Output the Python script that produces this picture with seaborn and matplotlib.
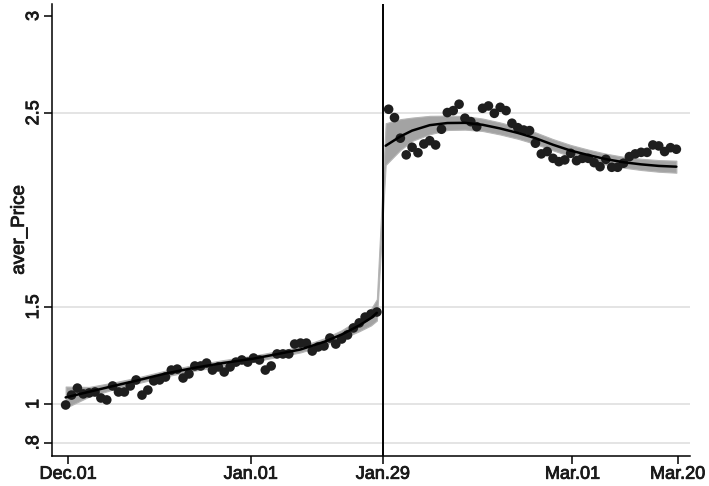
import numpy as np
import pandas as pd
import matplotlib
matplotlib.use("Agg")
import matplotlib.pyplot as plt
import matplotlib.patheffects as pe
import seaborn as sns

# daily average price, day 0 = Dec.01, cutoff at day 54 (Jan.29)
pre_day = list(range(0, 54))
pre_price = [0.995, 1.046, 1.082, 1.052, 1.057, 1.062, 1.031, 1.021, 1.093, 1.062,
             1.062, 1.093, 1.124, 1.046, 1.072, 1.119, 1.124, 1.139, 1.175, 1.180,
             1.134, 1.155, 1.196, 1.196, 1.211, 1.175, 1.191, 1.165, 1.191, 1.216,
             1.227, 1.216, 1.237, 1.227, 1.175, 1.196, 1.258, 1.258, 1.258, 1.309,
             1.314, 1.314, 1.273, 1.294, 1.299, 1.340, 1.309, 1.335, 1.356, 1.392,
             1.418, 1.448, 1.464, 1.474]
post_day = list(range(55, 105))
post_price = [2.519, 2.476, 2.370, 2.284, 2.323, 2.295, 2.340, 2.357, 2.335, 2.416,
              2.502, 2.512, 2.545, 2.473, 2.455, 2.429, 2.524, 2.536, 2.498, 2.529,
              2.512, 2.447, 2.424, 2.412, 2.409, 2.344, 2.289, 2.301, 2.266, 2.249,
              2.258, 2.292, 2.254, 2.266, 2.266, 2.244, 2.223, 2.261, 2.220, 2.220,
              2.241, 2.275, 2.289, 2.297, 2.297, 2.335, 2.330, 2.301, 2.321, 2.313]

# fitted curve and 95% CI
fit_pre_day = [0, 4, 8, 12, 17, 22, 27, 32, 36, 40, 44, 47, 50, 52, 53]
fit_pre = [1.034, 1.063, 1.092, 1.120, 1.157, 1.187, 1.212, 1.234, 1.257, 1.281,
           1.320, 1.358, 1.405, 1.443, 1.470]
ci_pre_lo = [0.980, 1.038, 1.074, 1.105, 1.142, 1.172, 1.197, 1.219, 1.242, 1.266,
             1.302, 1.336, 1.375, 1.405, 1.430]
ci_pre_hi = [1.090, 1.088, 1.110, 1.135, 1.172, 1.202, 1.227, 1.249, 1.272, 1.296,
             1.338, 1.380, 1.437, 1.490, 1.540]

fit_post_day = [54.5, 57, 59, 62, 65, 68, 71, 74, 77, 80, 83, 86, 89, 92, 95, 98, 101, 104]
fit_post = [2.331, 2.379, 2.409, 2.437, 2.448, 2.449, 2.439, 2.420, 2.397, 2.370,
            2.336, 2.306, 2.283, 2.262, 2.246, 2.235, 2.227, 2.223]
ci_post_lo = [2.232, 2.309, 2.356, 2.390, 2.412, 2.414, 2.407, 2.389, 2.367, 2.340,
              2.307, 2.277, 2.255, 2.234, 2.218, 2.206, 2.197, 2.192]
ci_post_hi = [2.447, 2.468, 2.476, 2.485, 2.486, 2.484, 2.471, 2.451, 2.427, 2.400,
              2.365, 2.335, 2.311, 2.290, 2.274, 2.264, 2.257, 2.254]

cutoff = 54
xtick_pos = [0.4, 31.5, 54, 86.3, 104.2]
xtick_lab = ["Dec.01", "Jan.01", "Jan.29", "Mar.01", "Mar.20"]
ytick_pos = [0.8, 1, 1.5, 2.5, 3]
ytick_lab = [".8", "1", "1.5", "2.5", "3"]

sns.set_style("white")
plt.rcParams["font.family"] = ["Liberation Sans", "DejaVu Sans"]

fig = plt.figure(figsize=(7.09, 4.86), dpi=100)
ax = fig.add_axes([0.0733, 0.0617, 0.8997, 0.9303])

# CI band, drawn across the cutoff like the original
ax.fill_between(fit_pre_day + fit_post_day, ci_pre_lo + ci_post_lo, ci_pre_hi + ci_post_hi,
                color="#a3a3a3", lw=0.8, edgecolor="#b5b5b5", zorder=2)

pts = pd.DataFrame({"day": pre_day + post_day, "price": pre_price + post_price})
sns.scatterplot(data=pts, x="day", y="price", ax=ax, s=48, color="#1e1e1e",
                edgecolor="none", zorder=3)

fits = pd.DataFrame({"day": fit_pre_day + fit_post_day,
                     "fit": fit_pre + fit_post,
                     "side": ["pre"] * len(fit_pre) + ["post"] * len(fit_post)})
sns.lineplot(data=fits, x="day", y="fit", units="side", estimator=None,
             color="black", lw=1.8, ax=ax, zorder=4)

ax.axvline(cutoff, color="black", lw=1.4, zorder=5)

for v in ytick_pos[:-1]:
    ax.axhline(v, color="#dcdcdc", lw=1.1, zorder=1)

ax.set_xlim(-2.33, 106.3)
ax.set_ylim(0.732, 3.062)
ax.set_xticks(xtick_pos)
ax.set_xticklabels(xtick_lab)
ax.set_yticks(ytick_pos)
ax.set_yticklabels(ytick_lab, rotation=90, va="center")
ax.set_xlabel("")
ax.set_ylabel("aver_Price", fontsize=13.5, labelpad=-2)
ax.tick_params(axis="both", which="major", labelsize=13, length=6, width=1.1,
               direction="out", color="black", bottom=True, left=True, pad=1)

# the original text looks a touch heavier
thick = [pe.withStroke(linewidth=0.6, foreground="#1a1a1a")]
for t in ax.get_xticklabels() + ax.get_yticklabels() + [ax.yaxis.label]:
    t.set_color("#1a1a1a")
    t.set_path_effects(thick)

for side in ["top", "right"]:
    ax.spines[side].set_visible(False)
for side in ["left", "bottom"]:
    ax.spines[side].set_color("black")
    ax.spines[side].set_linewidth(1.1)

fig.savefig("out.png", dpi=100)
